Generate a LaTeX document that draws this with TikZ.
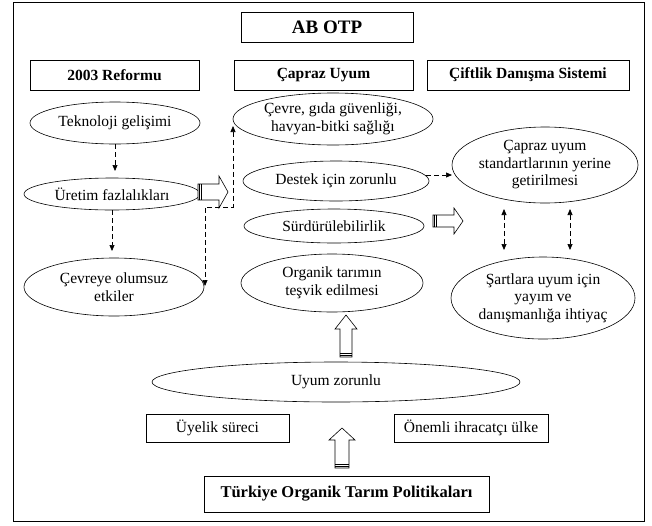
\documentclass[tikz,border=0pt]{standalone}
\usepackage{fontspec}
\setmainfont{Liberation Serif}
\usetikzlibrary{arrows.meta,shapes.geometric,calc}
\tikzset{
  pics/barrow/.style args={#1/#2/#3/#4}{code={
    \draw[line width=0.6pt, fill=white] (0,-#4) -- (#1-#2,-#4) -- (#1-#2,-#3) -- (#1,0) -- (#1-#2,#3) -- (#1-#2,#4) -- (0,#4) -- cycle;
    \draw[line width=0.9pt] (1.5,-#4) -- (1.5,#4) (3.5,-#4) -- (3.5,#4);
  }}
}
\begin{document}
\begin{tikzpicture}[x=1pt,y=-1pt,
  txt/.style={font=\fontsize{15.5}{17.5}\selectfont},
  every node/.style={inner sep=0pt, outer sep=0pt, align=center, txt},
  every label/.style={txt},
  ell/.style={draw, ellipse, line width=0.6pt},
  hbox/.style={draw, rectangle, line width=0.6pt, font=\fontsize{15.5}{18}\bfseries\selectfont, minimum height=30pt},
  pbox/.style={draw, rectangle, line width=0.6pt, minimum height=28pt},
  dashconn/.style={line width=0.7pt, dash pattern=on 5pt off 3pt, -{Triangle[length=6pt,width=5pt]}},
  dashboth/.style={line width=0.7pt, dash pattern=on 5pt off 3pt, {Triangle[length=6pt,width=5pt]}-{Triangle[length=6pt,width=5pt]}}
]
\useasboundingbox (0,0) rectangle (652,525);
\draw[line width=0.8pt] (13,2) rectangle (644,521);

% headers
\node[hbox, font=\fontsize{19}{22}\bfseries\selectfont, minimum width=172pt] (abotp) at (327,27) {AB OTP};
\node[hbox, minimum width=169pt] (reform) at (114.5,75) {2003 Reformu};
\node[hbox, minimum width=179pt] (capraz) at (323.5,75) {Çapraz Uyum};
\node[hbox, minimum width=202pt] (ciftlik) at (528,75) {Çiftlik Danışma Sistemi};

% left column
\node[ell, minimum width=170pt, minimum height=42pt, label={center:Teknoloji gelişimi}] (tek) at (115,123) {};
\node[ell, minimum width=176pt, minimum height=32pt, label={center:Üretim fazlalıkları}] (ure) at (112,194) {};
\node[ell, minimum width=180pt, minimum height=58pt, label={center:Çevreye olumsuz\\etkiler}] (cevreye) at (114,287) {};

% middle column
\node[ell, minimum width=200pt, minimum height=52pt, label={center:Çevre, gıda güvenliği,\\havyan-bitki sağlığı}] (cevre) at (333,119) {};
\node[ell, minimum width=186pt, minimum height=40pt, label={center:Destek için zorunlu}] (destek) at (336,181) {};
\node[ell, minimum width=180pt, minimum height=34pt, label={center:Sürdürülebilirlik}] (surdur) at (334,226) {};
\node[ell, minimum width=182pt, minimum height=58pt, label={center:Organik tarımın\\teşvik edilmesi}] (organik) at (332,283) {};

% right column
\node[ell, minimum width=186pt, minimum height=76pt, label={center:Çapraz uyum\\standartlarının yerine\\getirilmesi}] (capstd) at (545,165) {};
\node[ell, minimum width=184pt, minimum height=82pt, label={center:Şartlara uyum için\\yayım ve\\danışmanlığa ihtiyaç}] (sart) at (543,298) {};

% bottom
\node[ell, minimum width=368pt, minimum height=40pt, label={center:Uyum zorunlu}] (uyum) at (336,382) {};
\node[pbox, minimum width=143pt] (uyelik) at (217.5,428) {Üyelik süreci};
\node[pbox, minimum width=154pt] (onemli) at (471,428) {Önemli ihracatçı ülke};
\node[draw, rectangle, line width=0.6pt, minimum width=285pt, minimum height=36pt, font=\fontsize{16.5}{19}\bfseries\selectfont] (turkiye) at (346.5,494) {Türkiye Organik Tarım Politikaları};

% dashed connectors
\draw[dashconn] (tek.south) -- ++(0,27);
\draw[dashconn] (ure.south) -- ++(0,41);
\coordinate (eTop) at (233,126);
\coordinate (eC1) at (233,207);
\coordinate (eC2) at (205,207);
\coordinate (eBot) at (205,286);
\draw[dashboth] (eTop) -- (eC1) -- (eC2) -- (eBot);
\draw[dashconn] ($(destek.east)+(-3,-6)$) -- ($(capstd.west)+(0,10)$);
\draw[dashboth] ($(capstd.south)+(-41,6)$) -- ($(sart.north)+(-39,-7)$);
\draw[dashboth] ($(capstd.south)+(25,6)$) -- ($(sart.north)+(27,-7)$);

% block arrows
\pic at ($(ure.east)+(-2,-2)$) {barrow=30/9/16/8};
\pic at (433,221) {barrow=30/9/13/6};
\pic[rotate=90] at (346,357) {barrow=42/14/11/6};
\pic[rotate=90] at (342,468) {barrow=40/12/13/7};
\end{tikzpicture}
\end{document}
